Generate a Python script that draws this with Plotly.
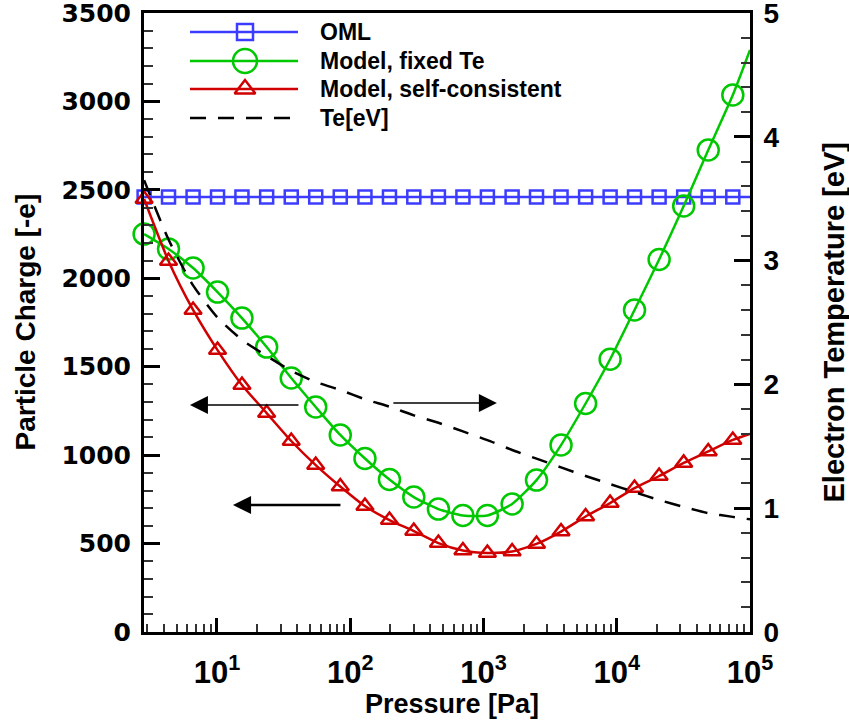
import plotly.graph_objects as go
import math

# ---------------- data ----------------
pressure = [2.84, 4.33, 6.62, 10.1, 15.4, 23.6, 36.1, 55.1, 84.2, 129, 197, 300, 459,
            701, 1070, 1640, 2500, 3820, 5840, 8920, 13600, 20800, 31800, 48600, 74300, 100000]
oml = [2460, 2460, 2460, 2460, 2460, 2460, 2460, 2460, 2460, 2460, 2460, 2460, 2460,
       2460, 2460, 2460, 2460, 2460, 2460, 2460, 2460, 2460, 2460, 2460, 2460, 2460]
model_fixed_te = [2250, 2166, 2058, 1922, 1775, 1611, 1436, 1272, 1114, 981, 862, 763, 695,
                  659, 659, 724, 859, 1057, 1292, 1542, 1821, 2106, 2409, 2725, 3036, 3291]
model_self_consistent = [2448, 2098, 1821, 1594, 1397, 1238, 1080, 944, 823, 712, 633, 571, 503,
                         461, 447, 455, 498, 568, 653, 729, 814, 882, 956, 1021, 1086, 1120]
te_ev = [3.65, 3.17, 2.80, 2.54, 2.36, 2.23, 2.11, 2.02, 1.955, 1.88, 1.82, 1.75, 1.69,
         1.62, 1.55, 1.47, 1.40, 1.33, 1.26, 1.195, 1.13, 1.066, 1.01, 0.96, 0.93, 0.91]

x_tick_vals = [10, 100, 1000, 10000, 100000]
x_tick_text = ["10<sup>1</sup>", "10<sup>2</sup>", "10<sup>3</sup>", "10<sup>4</sup>", "10<sup>5</sup>"]
legend_names = ["OML", "Model, fixed Te", "Model, self-consistent", "Te[eV]"]

# ---------------- styles ----------------
BLUE = "#3c3cff"
GREEN = "#00c800"
RED = "#d00000"
BLACK = "#000000"
ARIAL = "Liberation Sans, Arial, sans-serif"
WIDE = "DejaVu Sans, sans-serif"

n = len(pressure)
marker_vis = [1] * (n - 1) + [0]   # the last point (axis end) carries no marker

# plot-area geometry in pixels (for converting layout positions)
L, R, T, B = 144, 750, 13, 632
def px(xp):
    return (xp - L) / (R - L)
def py(yp):
    return (B - yp) / (B - T)

fig = go.Figure()

fig.add_trace(go.Scatter(
    x=pressure, y=oml, mode="lines+markers", name=legend_names[0],
    line=dict(color=BLUE, width=2.5),
    marker=dict(symbol="square-open", size=13, color=BLUE, opacity=marker_vis,
                line=dict(width=2.5, color=BLUE)),
    cliponaxis=False))

fig.add_trace(go.Scatter(
    x=pressure, y=model_fixed_te, mode="lines+markers", name=legend_names[1],
    line=dict(color=GREEN, width=2.5, shape="spline", smoothing=0.6),
    marker=dict(symbol="circle-open", size=21, color=GREEN, opacity=marker_vis,
                line=dict(width=2.5, color=GREEN)),
    cliponaxis=False))

fig.add_trace(go.Scatter(
    x=pressure, y=model_self_consistent, mode="lines+markers", name=legend_names[2],
    line=dict(color=RED, width=2.5, shape="spline", smoothing=0.6),
    marker=dict(symbol="triangle-up-open", size=15, color=RED, opacity=marker_vis,
                line=dict(width=2.5, color=RED)),
    cliponaxis=False))

fig.add_trace(go.Scatter(
    x=pressure, y=te_ev, mode="lines", name=legend_names[3], yaxis="y2",
    line=dict(color=BLACK, width=2.5, dash="16px,12px", shape="spline", smoothing=0.6)))

# ---------------- manual legend (long line samples) ----------------
leg_rows = [32, 61, 89, 118]
leg_x0, leg_x1, leg_xm, leg_text = 190, 298, 245, 318
leg_styles = [
    dict(color=BLUE, symbol="square-open", size=16, dash="solid"),
    dict(color=GREEN, symbol="circle-open", size=24, dash="solid"),
    dict(color=RED, symbol="triangle-up-open", size=18, dash="solid"),
    dict(color=BLACK, symbol=None, size=0, dash="16px,12px"),
]
for name, row, st in zip(legend_names, leg_rows, leg_styles):
    fig.add_trace(go.Scatter(
        x=[px(leg_x0), px(leg_x1)], y=[py(row), py(row)], mode="lines",
        xaxis="x3", yaxis="y3", showlegend=False, hoverinfo="skip",
        line=dict(color=st["color"], width=2.5, dash=st["dash"])))
    if st["symbol"]:
        fig.add_trace(go.Scatter(
            x=[px(leg_xm)], y=[py(row)], mode="markers",
            xaxis="x3", yaxis="y3", showlegend=False, hoverinfo="skip",
            marker=dict(symbol=st["symbol"], size=st["size"], color=st["color"],
                        line=dict(width=2.5, color=st["color"]))))
    fig.add_annotation(text=name, xref="paper", yref="paper", x=px(leg_text), y=py(row),
                       xanchor="left", yanchor="middle", showarrow=False,
                       font=dict(family=ARIAL, size=23, color=BLACK, weight="bold"))

# ---------------- arrows ----------------
def lx(xp):   # pixel -> log10 pressure
    return 1 + (xp - 217) / 133.3
def ly(yp):   # pixel -> particle charge
    return (B - yp) / (B - T) * 3500

arrows = [  # tip px, tail px, line width, head size
    ((190, 405), (300, 405), 1.5, 2.4),
    ((233, 505), (342, 505), 2.5, 1.45),
    ((497, 403), (392, 403), 1.5, 2.4),
]
for (tx, ty), (sx, sy), w, s in arrows:
    fig.add_annotation(x=lx(tx), y=ly(ty), xref="x", yref="y", ax=sx - tx, ay=sy - ty,
                       showarrow=True, arrowhead=2, arrowwidth=w, arrowsize=s,
                       arrowcolor=BLACK, text="")

# ---------------- axis titles ----------------
fig.add_annotation(text="Pressure [Pa]", xref="paper", yref="paper", x=px(452), y=py(704),
                   showarrow=False, xanchor="center", yanchor="middle",
                   font=dict(family=ARIAL, size=27, color=BLACK, weight="bold"))
fig.add_annotation(text="Particle Charge [-e]", xref="paper", yref="paper", x=px(25), y=0.5,
                   showarrow=False, textangle=-90, xanchor="center", yanchor="middle",
                   font=dict(family=ARIAL, size=28, color=BLACK, weight="bold"))
fig.add_annotation(text="Electron Temperature [eV]", xref="paper", yref="paper", x=px(833), y=0.5,
                   showarrow=False, textangle=-90, xanchor="center", yanchor="middle",
                   font=dict(family=ARIAL, size=29, color=BLACK, weight="bold"))

minor_x = [m * 10 ** e for e in range(0, 5) for m in range(2, 10) if m * 10 ** e > 2.84]

fig.update_layout(
    width=849, height=720,
    margin=dict(l=L, r=849 - R, t=T, b=720 - B, autoexpand=False),
    paper_bgcolor="white", plot_bgcolor="white",
    showlegend=False,
    xaxis=dict(
        type="log", range=[math.log10(2.835), 5], automargin=False,
        tickmode="array", tickvals=x_tick_vals, ticktext=x_tick_text,
        ticks="inside", ticklen=14, tickwidth=3, tickcolor=BLACK,
        showline=True, linewidth=3, linecolor=BLACK, mirror=True,
        showgrid=False, zeroline=False,
        minor=dict(tickmode="array", tickvals=minor_x, ticks="inside", ticklen=8,
                   tickwidth=1.5, tickcolor="#333", showgrid=False),
        tickfont=dict(family=ARIAL, size=31, color=BLACK, weight="bold"),
        ticklabelstandoff=11, ticklabeloverflow="allow",
    ),
    yaxis=dict(
        range=[0, 3500], tick0=0, dtick=500, automargin=False,
        ticks="inside", ticklen=16, tickwidth=3, tickcolor=BLACK,
        showline=True, linewidth=3, linecolor=BLACK,
        showgrid=False, zeroline=False,
        minor=dict(dtick=100, ticks="inside", ticklen=9, tickwidth=1.5,
                   tickcolor="#333", showgrid=False),
        tickfont=dict(family=WIDE, size=25, color=BLACK, weight="bold"),
        ticklabelstandoff=5, ticklabeloverflow="allow",
    ),
    yaxis2=dict(
        overlaying="y", side="right", anchor="x", automargin=False,
        range=[0, 5], tick0=0, dtick=1,
        ticks="inside", ticklen=16, tickwidth=3, tickcolor=BLACK,
        showline=True, linewidth=3, linecolor=BLACK,
        showgrid=False, zeroline=False,
        minor=dict(dtick=0.2, ticks="inside", ticklen=9, tickwidth=1.5,
                   tickcolor="#333", showgrid=False),
        tickfont=dict(family=ARIAL, size=28, color=BLACK, weight="bold"),
        ticklabelstandoff=5, ticklabeloverflow="allow",
    ),
    xaxis3=dict(overlaying="x", anchor="y3", range=[0, 1], visible=False, fixedrange=True),
    yaxis3=dict(overlaying="y", anchor="x3", range=[0, 1], visible=False, fixedrange=True),
)

fig.write_html("out.html")
